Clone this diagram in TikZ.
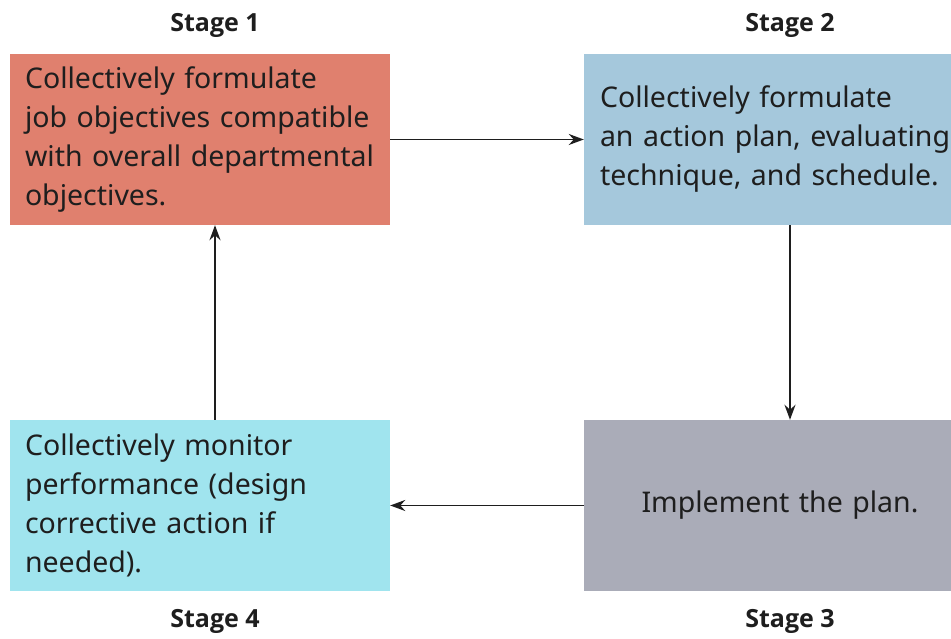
\documentclass[tikz,border=0pt]{standalone}
\usepackage{fontspec}
\setsansfont{Noto Sans}
\newfontfamily\labelfont{Open Sans}
\usetikzlibrary{arrows.meta,positioning}
\definecolor{stageone}{RGB}{224,128,110}
\definecolor{stagetwo}{RGB}{165,200,220}
\definecolor{stagethree}{RGB}{170,172,184}
\definecolor{stagefour}{RGB}{160,228,238}
\definecolor{inkgray}{RGB}{30,30,30}
\tikzset{
  stagebox/.style={inner xsep=15pt,inner ysep=0pt,minimum height=171pt,text width=350pt,
                   align=left,text=inkgray,font=\sffamily\fontsize{28.5}{39}\selectfont},
  widebox/.style={stagebox,inner xsep=16pt,text width=360pt},
  stagelabel/.style={text=inkgray,font=\labelfont\bfseries\fontsize{25}{30}\selectfont},
  flow/.style={inkgray,line width=1.8pt,-{Stealth[length=15pt,width=11pt]}}
}
\begin{document}
\begin{tikzpicture}[x=1pt,y=1pt]
  \useasboundingbox (0,0) rectangle (951,639);
  % The four stages of the cycle.
  \node[stagebox,fill=stageone] (s1) at (200,499.5) {Collectively formulate\\job objectives compatible\\with overall departmental\\objectives.};
  \node[widebox,fill=stagetwo] (s2) at (780,499.5) {Collectively formulate\\an action plan, evaluating\\technique, and schedule.};
  \node[widebox,fill=stagethree,align=center] (s3) at (780,133.5) {Implement the plan.};
  \node[stagebox,fill=stagefour] (s4) at (200,133.5) {Collectively monitor\\performance (design\\corrective action if\\needed).};

  % Stage titles above and below the boxes.
  \node[stagelabel] (lab1) at (215,614) {Stage 1};
  \node[stagelabel] (lab2) at (790,614) {Stage 2};
  \node[stagelabel] (lab3) at (790,18) {Stage 3};
  \node[stagelabel] (lab4) at (215,18) {Stage 4};

  % Clockwise flow between the stages.
  \draw[flow] (s1.east) -- (s2.west);
  \draw[flow] (lab2 |- s2.south) -- (lab2 |- s3.north);
  \draw[flow] (s3.west) -- (s4.east);
  \draw[flow] (lab1 |- s4.north) -- (lab1 |- s1.south);
\end{tikzpicture}
\end{document}
